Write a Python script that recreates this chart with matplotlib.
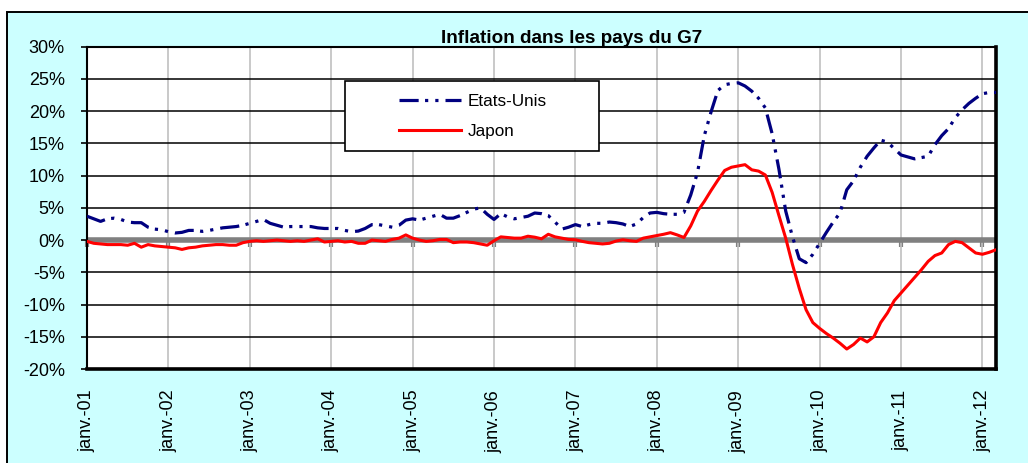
import matplotlib
matplotlib.use('Agg')
import matplotlib.pyplot as plt
from matplotlib.patches import Rectangle
import numpy as np

plt.rcParams['font.family'] = ['Liberation Sans', 'DejaVu Sans']

title = "Inflation dans les pays du G7"
series_names = ['Etats-Unis', 'Japon']
year_labels = ['janv.-01', 'janv.-02', 'janv.-03', 'janv.-04', 'janv.-05', 'janv.-06',
               'janv.-07', 'janv.-08', 'janv.-09', 'janv.-10', 'janv.-11', 'janv.-12']
y_ticks = [-20, -15, -10, -5, 0, 5, 10, 15, 20, 25, 30]

# monthly values, Jan 2001 -> Mar 2012 (in %)
us = [3.7, 3.3, 2.9, 3.3, 3.4, 3.2, 2.8, 2.7, 2.7, 2.0,
      1.7, 1.6, 1.3, 1.1, 1.2, 1.5, 1.5, 1.35, 1.5, 1.7,
      1.9, 2.0, 2.1, 2.3, 2.6, 2.9, 3.2, 2.6, 2.3, 2.0,
      2.1, 2.1, 2.1, 2.1, 1.9, 1.8, 1.8, 1.8, 1.5, 1.3,
      1.4, 1.8, 2.4, 2.4, 2.2, 2.0, 2.3, 3.1, 3.3, 3.1,
      3.4, 3.7, 4.0, 3.4, 3.4, 3.8, 4.3, 4.8, 5.0, 4.0,
      3.2, 4.1, 3.6, 3.3, 3.5, 3.7, 4.2, 4.1, 3.8, 2.8,
      1.7, 2.0, 2.4, 2.1, 2.4, 2.6, 2.6, 2.8, 2.7, 2.5,
      2.1, 2.5, 3.5, 4.2, 4.3, 4.1, 4.0, 4.0, 4.3, 7.0,
      10.5, 16.2, 19.9, 23.2, 24.1, 24.3, 24.4, 23.9, 23.1, 22.0,
      20.5, 16.5, 11.0, 4.5, 0.5, -2.9, -3.5, -2.2, -0.5, 1.2,
      2.8, 4.2, 7.8, 9.2, 11.3, 13.0, 14.3, 15.5, 15.2, 14.2,
      13.2, 12.9, 12.6, 12.8, 13.0, 14.8, 16.2, 17.3, 19.0, 20.2,
      21.2, 22.0, 22.7, 22.9, 22.9]

japon = [-0.2, -0.5, -0.6, -0.7, -0.7, -0.7, -0.8, -0.5, -1.1, -0.7,
         -0.9, -1.0, -1.1, -1.2, -1.45, -1.2, -1.1, -0.9, -0.8, -0.7,
         -0.7, -0.8, -0.8, -0.4, -0.2, -0.1, -0.2, -0.1, 0.0, -0.1,
         -0.2, -0.1, -0.2, 0.0, 0.2, -0.3, -0.2, -0.1, -0.3, -0.2,
         -0.5, -0.5, 0.0, -0.1, -0.2, 0.1, 0.3, 0.8, 0.3, 0.0,
         -0.2, -0.1, 0.1, 0.1, -0.4, -0.3, -0.3, -0.4, -0.6, -0.8,
         -0.1, 0.5, 0.4, 0.3, 0.3, 0.6, 0.45, 0.2, 0.9, 0.5,
         0.3, 0.1, 0.05, -0.2, -0.4, -0.5, -0.6, -0.5, -0.15, 0.05,
         -0.1, -0.2, 0.3, 0.5, 0.7, 0.9, 1.15, 0.8, 0.4, 2.2,
         4.5, 6.0, 7.7, 9.3, 10.8, 11.3, 11.5, 11.7, 10.9, 10.7,
         10.1, 7.4, 3.8, 0.3, -3.8, -7.5, -10.8, -12.8, -13.7, -14.5,
         -15.2, -16.0, -16.9, -16.2, -15.2, -15.8, -15.0, -12.8, -11.3, -9.4,
         -8.2, -7.0, -5.8, -4.6, -3.3, -2.4, -2.0, -0.7, -0.2, -0.4,
         -1.2, -2.0, -2.2, -1.9, -1.5]

W, H = 1028, 463
fig = plt.figure(figsize=(W / 100, H / 100), dpi=100)
fig.patch.set_facecolor('white')

# outer chart area (light cyan with black border)
bg = Rectangle((7 / W, -0.1), 1.2, (1 - 12 / H) + 0.1, transform=fig.transFigure,
               facecolor='#CCFFFF', edgecolor='black', lw=1.4, zorder=-5)
fig.add_artist(bg)

ax = fig.add_axes([87 / W, 1 - 369 / H, (996 - 87) / W, (369 - 46.7) / H])
ax.set_facecolor('white')

x = np.arange(len(us))
ymin, ymax = -20, 30
ax.set_xlim(0, len(us) - 1)
ax.set_ylim(ymin, ymax)

year_ticks = np.arange(0, len(us), 12)
ax.set_xticks(year_ticks)
ax.set_xticklabels(year_labels)
ax.set_yticks(y_ticks)
ax.set_yticklabels([f'{v}%' for v in y_ticks])

ax.set_axisbelow(True)
ax.yaxis.grid(True, color='black', lw=1.1)
ax.xaxis.grid(True, color='#C0C0C0', lw=1.2)

ax.tick_params(axis='x', length=0, pad=15, labelsize=13, labelrotation=90)
ax.tick_params(axis='y', length=4, width=1.2, pad=12, labelsize=13, direction='out')

# zero line (category axis crossing at 0) with its tick marks
ax.axhline(0, color='#808080', lw=4, zorder=1.6)
sec = ax.secondary_xaxis((0 - ymin) / (ymax - ymin))
sec.set_xticks(year_ticks)
sec.tick_params(length=5, width=3, color='#808080', labelbottom=False, labeltop=False)
for s in sec.spines.values():
    s.set_visible(False)

l_us, = ax.plot(x, us, color='#000080', lw=2.3, dashes=(6, 2, 1, 2.2, 1, 2.2),
                zorder=3, label=series_names[0])
l_jp, = ax.plot(x, japon, color='#FF0000', lw=2.2, zorder=3, label=series_names[1])

for side in ['top', 'left']:
    ax.spines[side].set_linewidth(1.5)
for side in ['right', 'bottom']:
    ax.spines[side].set_linewidth(2.6)
for s in ax.spines.values():
    s.set_color('black')

# legend box
lbox = Rectangle((345 / W, 1 - 151 / H), (599 - 345) / W, (151 - 81) / H,
                 transform=fig.transFigure, facecolor='white', edgecolor='black',
                 lw=1.2, zorder=4)
fig.add_artist(lbox)
leg = fig.legend([l_us, l_jp], series_names, loc='center left',
                 bbox_to_anchor=(399 / W, 1 - 116.7 / H), bbox_transform=fig.transFigure,
                 frameon=False, fontsize=12.3, handlelength=3.6, handletextpad=0.4,
                 labelspacing=0.9, borderpad=0, borderaxespad=0)
leg.set_zorder(6)

fig.text(572 / W, 1 - 43 / H, title, ha='center', va='baseline',
         fontsize=13.6, fontweight='bold')

fig.savefig('out.png', dpi=100)
